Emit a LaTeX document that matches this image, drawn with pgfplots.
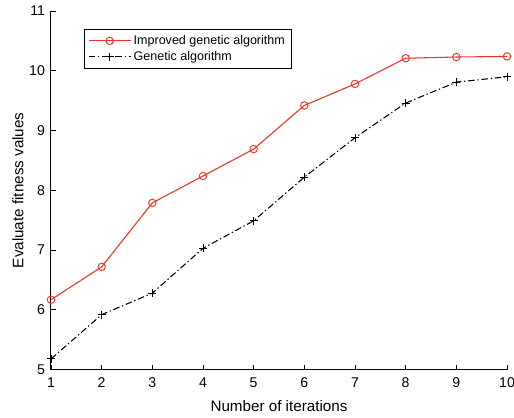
\documentclass[border=0pt]{standalone}
\usepackage{fontspec}
\setmainfont{Liberation Sans}
\usepackage{pgfplots}
\pgfplotsset{compat=1.18}
\definecolor{igared}{RGB}{232,52,42}
\begin{document}
\begin{tikzpicture}
\begin{axis}[
  name=main,
  scale only axis,
  width=342pt, height=269pt,
  xmin=1, xmax=10, ymin=5, ymax=11,
  xtick={1,...,10}, ytick={5,...,11},
  axis x line*=bottom, axis y line*=left,
  tick align=inside,
  major tick length=3.5pt,
  every tick/.style={black, line width=0.6pt},
  axis line style={line width=0.75pt},
  /pgf/number format/assume math mode=true,
  tick label style={font=\fontsize{10.6}{12}\selectfont},
  xticklabel style={yshift=-2.5pt},
  yticklabel style={xshift=-1pt},
  label style={font=\fontsize{11.4}{13}\selectfont},
  xlabel={Number of iterations},
  ylabel={Evaluate fitness values},
  xlabel style={at={(rel axis cs:0.5,0)}, anchor=center, yshift=-27pt},
  ylabel style={at={(rel axis cs:0,0.5)}, anchor=center, yshift=24.75pt},
  legend style={at={(rel axis cs:0.072,0.95)}, anchor=north west,
    font=\fontsize{9.4}{11}\selectfont, draw=black, line width=0.6pt,
    inner xsep=3pt, inner ysep=2.5pt, row sep=-0.5pt,
    cells={anchor=west}},
  legend cell align=left,
  legend image code/.code={%
    \draw[mark repeat=2,mark phase=2,#1]
      plot coordinates {(0cm,0cm) (0.55cm,0cm) (1.1cm,0cm)};},
]
\addplot[igared, line width=0.8pt, mark=o, mark size=2.8pt,
  mark options={solid, line width=0.7pt}] coordinates {
  (1,6.17) (2,6.72) (3,7.79) (4,8.24) (5,8.69)
  (6,9.42) (7,9.78) (8,10.21) (9,10.23) (10,10.24)};
\addlegendentry{Improved genetic algorithm}
\addplot[black, line width=0.8pt, mark=+, mark size=3pt,
  dash pattern=on 5pt off 2pt on 1pt off 2pt,
  mark options={solid, line width=0.7pt}] coordinates {
  (1,5.18) (2,5.92) (3,6.28) (4,7.03) (5,7.49)
  (6,8.22) (7,8.88) (8,9.46) (9,9.81) (10,9.90)};
\addlegendentry{Genetic algorithm}
\end{axis}
\pgfresetboundingbox
\path ([shift={(-38.25pt,-36pt)}]main.south west)
  rectangle ([shift={(5.25pt,8.25pt)}]main.north east);
\end{tikzpicture}
\end{document}
